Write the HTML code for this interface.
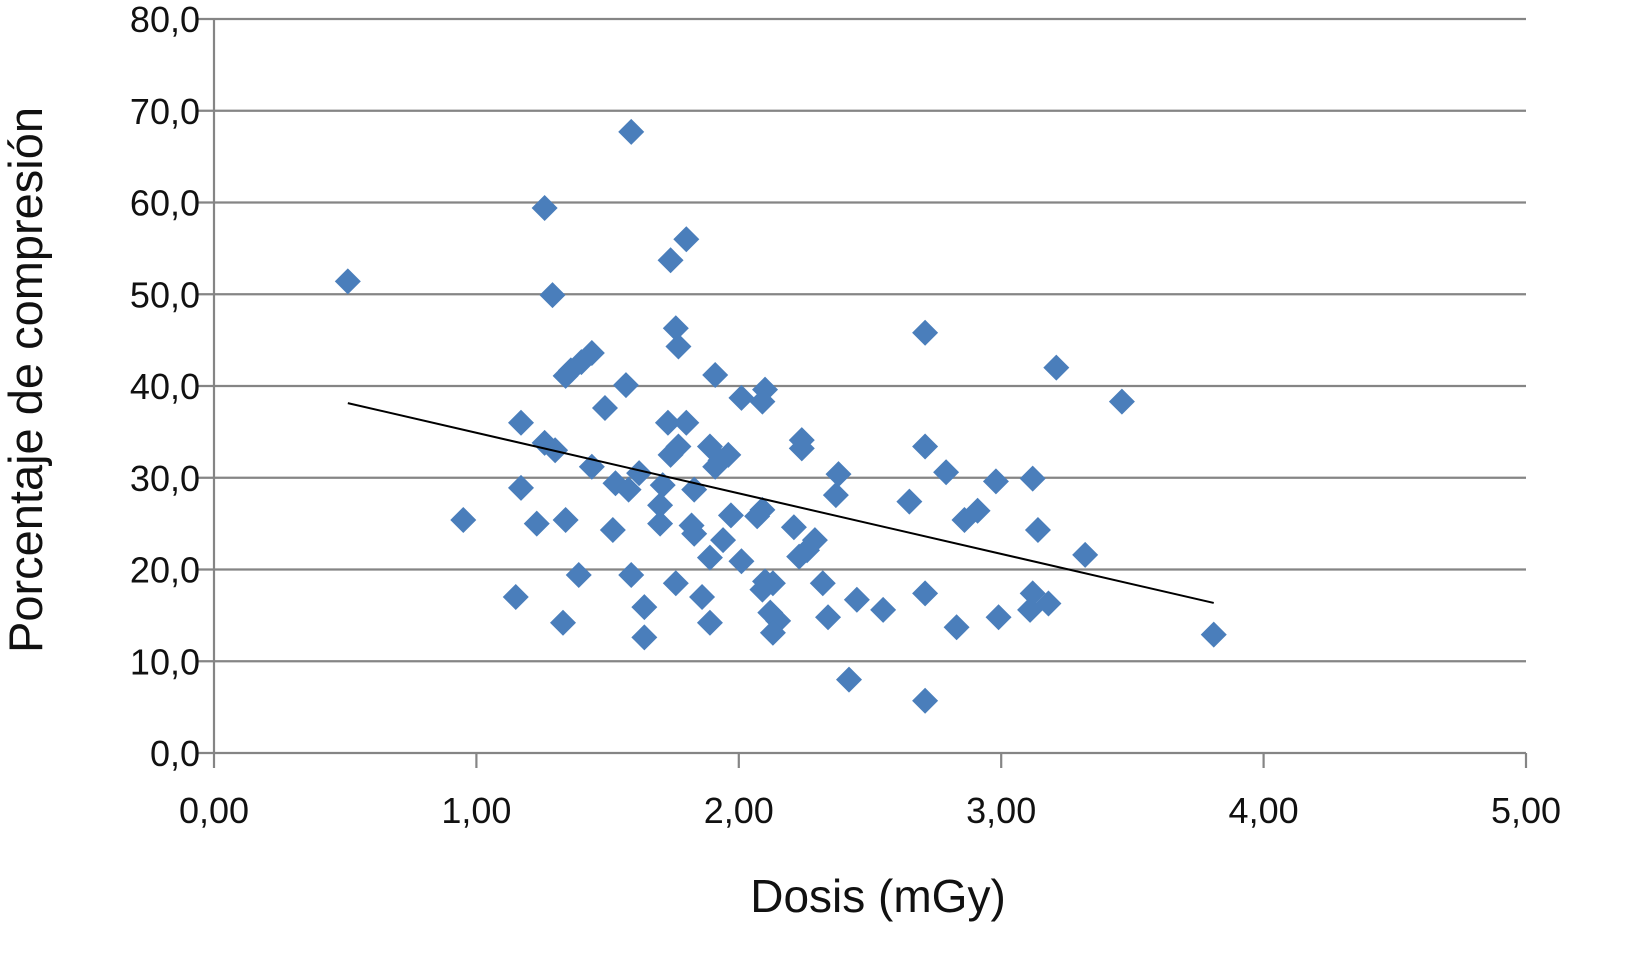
<!DOCTYPE html>
<html><head><meta charset="utf-8"><style>
html,body{margin:0;padding:0;background:#fff}
svg text{font-family:"Liberation Sans",sans-serif;fill:#111}
</style></head><body>
<svg width="1625" height="966" viewBox="0 0 1625 966" id="chart">
<g id="grid"></g>
<g id="axes"></g>
<g id="pts"></g>
<g id="trend"></g>
<text x="878" y="912" font-size="46" text-anchor="middle">Dosis (mGy)</text>
<text transform="translate(42,380) rotate(-90)" font-size="47" text-anchor="middle">Porcentaje de compresión</text>
</svg>
<script>
const xTicks=[0,1,2,3,4,5];
const xTickLabels=["0,00","1,00","2,00","3,00","4,00","5,00"];
const yTicks=[0,10,20,30,40,50,60,70,80];
const yTickLabels=["0,0","10,0","20,0","30,0","40,0","50,0","60,0","70,0","80,0"];
const doseX=[0.51,0.95,1.26,1.29,1.59,1.80,1.74,1.76,1.77,2.71,3.21,3.46,1.44,1.40,1.36,1.34,1.57,1.91,2.01,2.10,2.09,1.49,1.17,1.73,1.80,1.26,1.30,1.77,1.74,1.89,1.93,1.96,1.91,2.24,2.24,2.71,2.38,2.79,2.98,3.12,1.44,1.62,1.53,1.58,1.71,1.83,1.17,2.37,2.65,1.70,2.09,2.07,1.97,2.91,2.86,1.23,1.34,1.52,1.70,1.82,1.83,2.21,3.14,1.94,2.29,2.26,2.23,2.01,1.89,3.32,1.39,1.59,1.76,2.10,2.13,2.32,2.09,1.15,1.86,2.71,3.12,3.18,2.45,1.64,2.55,3.11,2.12,2.15,2.99,2.34,1.33,1.89,2.83,2.13,3.81,1.64,2.42,2.71];
const compY=[51.4,25.4,59.4,49.9,67.7,56.0,53.7,46.3,44.3,45.8,42.0,38.3,43.6,42.6,41.7,41.1,40.1,41.2,38.7,39.6,38.3,37.6,36.0,36.0,36.0,33.8,33.0,33.4,32.5,33.4,31.9,32.5,31.2,34.1,33.2,33.4,30.4,30.6,29.6,29.9,31.2,30.5,29.4,28.7,29.2,28.7,28.9,28.1,27.4,27.0,26.5,25.8,25.9,26.4,25.4,25.0,25.4,24.3,25.0,24.8,23.9,24.6,24.3,23.2,23.2,22.1,21.4,20.9,21.3,21.6,19.4,19.4,18.5,18.7,18.5,18.5,17.8,17.0,17.0,17.4,17.4,16.3,16.7,15.9,15.6,15.6,15.3,14.4,14.8,14.8,14.2,14.2,13.7,13.1,12.9,12.6,8.0,5.7];
const trendX=[0.51,3.81];
const trendSlope=-6.6, trendIntercept=41.5;

const NS="http://www.w3.org/2000/svg";
const X=v=>214+v*262.4, Y=v=>753-v*9.175;
function mk(tag,attrs,parent){const e=document.createElementNS(NS,tag);for(const k in attrs)e.setAttribute(k,attrs[k]);parent.appendChild(e);return e;}
const grid=document.getElementById('grid'),axes=document.getElementById('axes'),pts=document.getElementById('pts'),tr=document.getElementById('trend');
yTicks.forEach((t,i)=>{
  const l=mk('line',{x1:198,x2:1526,y1:Y(t),y2:Y(t),stroke:'#858585','stroke-width':2.2},grid);
  
  
  const tx=mk('text',{x:200,y:Y(t)+13,'font-size':36,'text-anchor':'end'},axes);
  tx.textContent=yTickLabels[i];
  
  
});
const ya=mk('line',{x1:214,x2:214,y1:Y(80),y2:Y(0),stroke:'#858585','stroke-width':2.2},axes);


xTicks.forEach((t,i)=>{
  const l=mk('line',{x1:X(t),x2:X(t),y1:753,y2:768,stroke:'#858585','stroke-width':2.2},axes);
  
  
  const tx=mk('text',{x:X(t),y:823,'font-size':36,'text-anchor':'middle'},axes);
  tx.textContent=xTickLabels[i];
  
  
});
doseX.forEach((d,i)=>{
  const cx=X(d),cy=Y(compY[i]),r=13;
  const p=mk('polygon',{points:`${cx},${cy-r} ${cx+r},${cy} ${cx},${cy+r} ${cx-r},${cy}`,fill:'#4a7ebb'},pts);
  
  
});
const tl=mk('line',{x1:X(trendX[0]),y1:Y(trendIntercept+trendSlope*trendX[0]),x2:X(trendX[1]),y2:Y(trendIntercept+trendSlope*trendX[1]),stroke:'#000','stroke-width':2},tr);


</script>
</body></html>
